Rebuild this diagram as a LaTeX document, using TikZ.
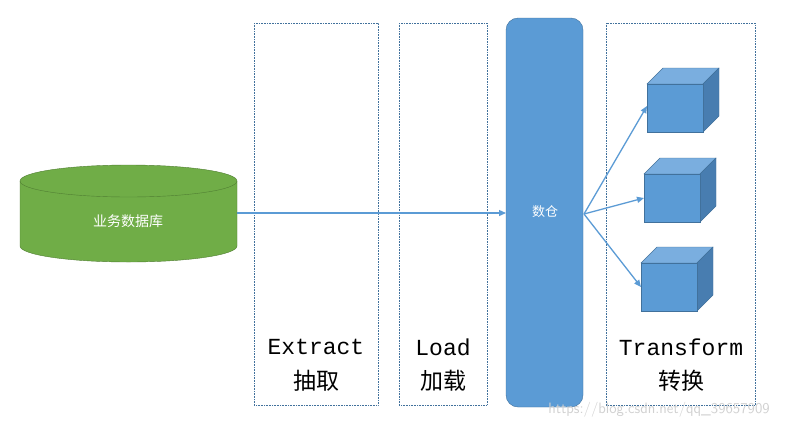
\documentclass[tikz,border=0pt]{standalone}
\usepackage{fontspec}
\setmonofont{Liberation Mono}
\newfontfamily\cjk{Noto Sans CJK SC}
\usetikzlibrary{arrows.meta,shapes.geometric}
\definecolor{blu}{HTML}{5B9BD5}
\definecolor{bludk}{HTML}{41719C}
\definecolor{bluside}{HTML}{487DB0}
\definecolor{blutop}{HTML}{7AAEDF}
\definecolor{grn}{HTML}{70AD47}
\definecolor{grndk}{HTML}{507E32}
\tikzset{
  stagebox/.style={draw=bludk,densely dotted,line width=0.6pt},
  lab/.style={font=\fontsize{23}{26}\selectfont\ttfamily,text=black},
  clab/.style={font=\fontsize{23}{26}\selectfont\cjk,text=black},
  conn/.style={draw=blu,line width=1.3pt,-{Triangle[length=7pt,width=6pt]}},
}
\begin{document}
\begin{tikzpicture}[x=1pt,y=-1pt]
\useasboundingbox (0,0) rectangle (791,429);
\fill[white] (0,0) rectangle (791,429);
% stage boxes
\draw[stagebox] (254,23) rectangle (378,405);
\draw[stagebox] (399,23) rectangle (487,405);
\draw[stagebox] (606,23) rectangle (755,405);
% warehouse
\draw[fill=blu,draw=bludk,rounded corners=12pt] (506,18) rectangle (583,407);
\node[text=white,font=\fontsize{13}{15}\selectfont\cjk] (dw) at (545,212) {数仓};
% cylinder
\draw[fill=grn,draw=grndk] (20,181) -- (20,246) arc[start angle=180,end angle=0,x radius=108.5,y radius=16] -- (237,181) arc[start angle=0,end angle=-180,x radius=108.5,y radius=16] -- cycle;
\draw[draw=grndk] (20,181) arc[start angle=180,end angle=0,x radius=108.5,y radius=16];
\node[text=white,font=\fontsize{14}{16}\selectfont\cjk] (db) at (128,221) {业务数据库};
\coordinate (dbR) at (237,213);
\coordinate (dwL) at (506,213);
\draw[conn] (dbR) -- (dwL);
% cubes
\foreach \x/\y/\n in {647/84/c1,644/174/c2,641/263/c3}{
  \fill[blutop,draw=bludk] (\x,\y) -- (\x+16,\y-16) -- (\x+72,\y-16) -- (\x+56,\y) -- cycle;
  \fill[bluside,draw=bludk] (\x+56,\y) -- (\x+72,\y-16) -- (\x+72,\y+32) -- (\x+56,\y+48) -- cycle;
  \draw[fill=blu,draw=bludk] (\x,\y) rectangle (\x+56,\y+48);
  \coordinate (\n) at (\x,\y+24);
}
\coordinate (src) at (584,214);
\draw[conn] (src) -- ([yshift=2]c1);
\draw[conn] (src) -- (c2);
\draw[conn] (src) -- (c3);
% labels
\node[lab] (ex) at (316,347) {Extract};
\node[clab] (exc) at (316,381) {抽取};
\node[lab] (ld) at (443,347) {Load};
\node[clab] (ldc) at (443,381) {加载};
\node[lab] (tr) at (681,347) {Transform};
\node[clab] (trc) at (681,381) {转换};
\node[text=black!18,font=\fontsize{15}{17}\selectfont\sffamily] (wm) at (659,410) {https://blog.csdn.net/qq\_39657909};
\end{tikzpicture}
\end{document}
